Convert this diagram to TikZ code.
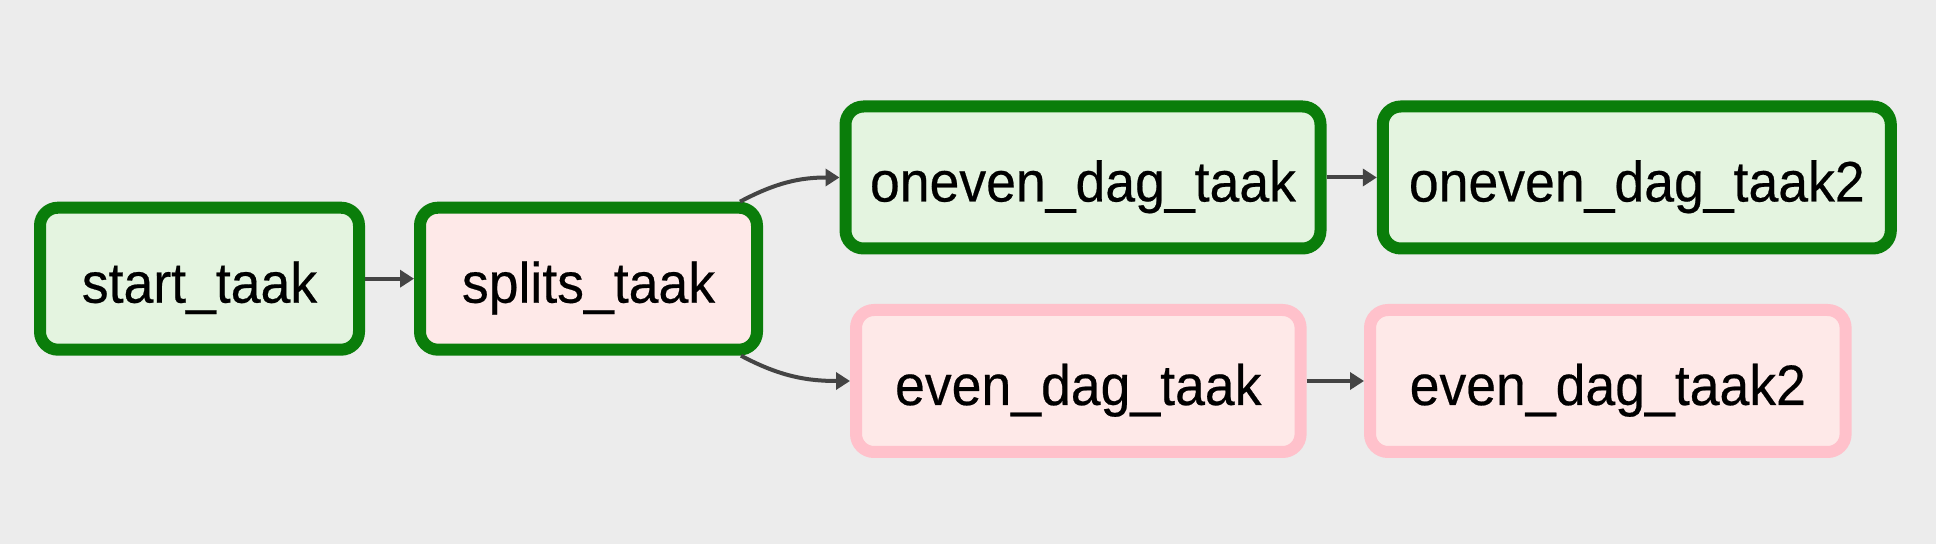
\documentclass[tikz,border=0pt]{standalone}
\usepackage{fontspec}
\newfontfamily\labelfont[FakeStretch=0.94,FakeBold=0.4]{Liberation Sans}
\usetikzlibrary{arrows.meta}
\definecolor{bgcol}{HTML}{ECECEC}
\definecolor{okline}{HTML}{0A7D0A}
\definecolor{okfill}{HTML}{E4F4E0}
\definecolor{pinkline}{HTML}{FFC1CB}
\definecolor{pinkfill}{HTML}{FEE9E8}
\definecolor{edgecol}{HTML}{444444}
\begin{document}
\begin{tikzpicture}[x=0.5pt,y=-0.5pt,
  task/.style={rectangle, rounded corners=9pt, line width=6pt, inner sep=0pt,
    text height=24pt, text depth=0pt, minimum height=71pt,
    font=\labelfont\fontsize{28.5pt}{34pt}\selectfont, text=black},
  greenbox/.style={task, draw=okline, fill=okfill},
  mixbox/.style={task, draw=okline, fill=pinkfill},
  pinkbox/.style={task, draw=pinkline, fill=pinkfill},
  edge/.style={draw=edgecol, line width=2pt, -{Triangle[length=7pt,width=8.5pt]}}]
\fill[bgcol] (0,0) rectangle (1936,544);
\useasboundingbox (0,0) rectangle (1936,544);
\node[greenbox, minimum width=159.5pt] (start) at (199.5,278.7) {start\_taak};
\node[mixbox, minimum width=168.5pt] (splits) at (588.5,278.7) {splits\_taak};
\node[greenbox, minimum width=237.5pt] (oneven) at (1083,177.5) {oneven\_dag\_taak};
\node[greenbox, minimum width=254pt] (oneven2) at (1636.8,177.5) {oneven\_dag\_taak2};
\node[pinkbox, minimum width=222.3pt] (even) at (1078.3,381) {even\_dag\_taak};
\node[pinkbox, minimum width=237.8pt] (even2) at (1607.8,381) {even\_dag\_taak2};
\draw[edge] (start.east) -- (splits.west);
\draw[edge] ([xshift=-11.5pt]splits.north east) to[out=28,in=180] (oneven.west);
\draw[edge] ([xshift=-11pt]splits.south east) to[out=-28,in=180] (even.west);
\draw[edge] (oneven.east) -- (oneven2.west);
\draw[edge] (even.east) -- (even2.west);
\end{tikzpicture}
\end{document}
